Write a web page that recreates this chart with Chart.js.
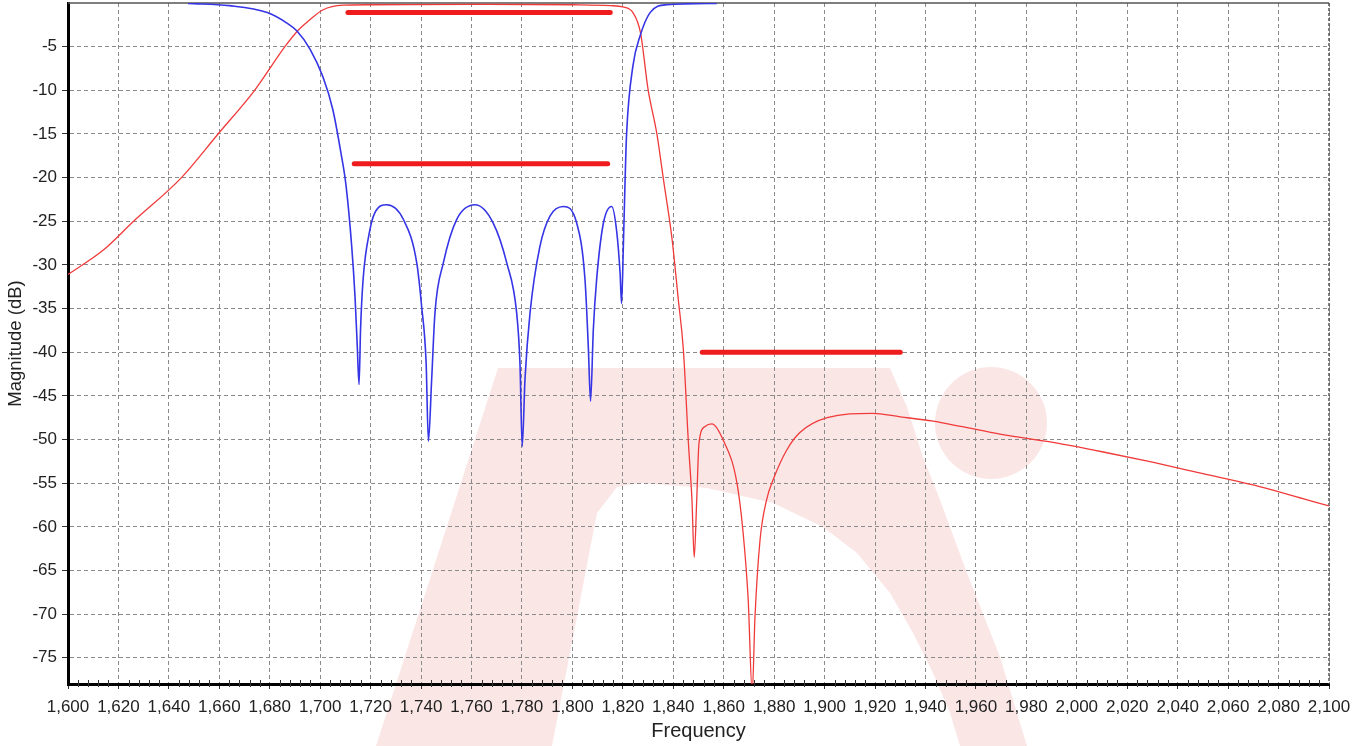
<!DOCTYPE html>
<html>
<head>
<meta charset="utf-8">
<script src="https://cdn.jsdelivr.net/npm/chart.js@4.4.0/dist/chart.umd.min.js"></script>
<style>
  html, body { margin: 0; padding: 0; background: #fff; }
</style>
</head>
<body>
<canvas id="chart" width="1365" height="746"></canvas>
<script>
// S21 (doorlaat) - rode lijn
const s21Freq = [1600, 1614, 1626, 1645, 1659.5, 1674, 1686, 1691, 1696, 1701, 1709, 1720, 1760, 1800, 1815,
  1820, 1824, 1827, 1830, 1833.5, 1836, 1839.5, 1842, 1844, 1846, 1847.4, 1848.3, 1849.3, 1850.2, 1852.6,
  1855.3, 1859.7, 1865.2, 1867.7, 1869.7, 1871.3, 1872.4, 1874.4, 1877, 1879.6, 1885, 1890.2, 1901, 1919,
  1930, 1943, 1954, 1970, 1990, 2010, 2030, 2050, 2070, 2090, 2100];
const s21Mag = [-31.1, -28.3, -25, -20, -15, -10, -5, -3.2, -1.9, -0.8, -0.25, -0.2, -0.15, -0.2, -0.3,
  -0.45, -1.1, -3.4, -9.9, -15, -20, -27, -34, -39.7, -50.4, -56.9, -63.5, -56.9, -50.4, -48.5,
  -48.2, -50, -54.9, -60.7, -68.3, -79, -70.3, -61.5, -56.9, -54.6, -51.2, -49.2, -47.5, -47,
  -47.4, -47.9, -48.5, -49.4, -50.3, -51.4, -52.6, -53.9, -55.2, -56.8, -57.6];

// S11 (reflectie) - blauwe lijn
const s11Freq = [1647.6, 1664, 1679, 1686.8, 1690.8, 1696, 1701, 1705, 1708, 1710.2, 1712.5, 1713.8, 1714.7,
  1715.4, 1716, 1717, 1719.7, 1721.7, 1726.4, 1733, 1738.3, 1740.2, 1742, 1742.9, 1744.2, 1745.5, 1748.8,
  1754.1, 1761.4, 1768.6, 1774, 1777.9, 1779.2, 1780.1, 1781.2, 1783.2, 1787.1, 1791.1, 1796.4, 1801.7,
  1805, 1806.3, 1807.2, 1808.3, 1809.6, 1812.3, 1815.6, 1817.5, 1818.9, 1819.5, 1820.2, 1820.9, 1821.5,
  1824, 1826.8, 1830.8, 1837.4, 1857.2];
const s11Mag = [-0.05, -0.3, -1.1, -2.3, -3.2, -5.3, -8.4, -12.2, -16.8, -20.8, -27.9, -33.6, -39.3,
  -43.7, -37.4, -31.7, -26, -24, -23.1, -24.8, -29.8, -34.7, -41.2, -50.2, -43.1, -35.5, -29.8,
  -24.8, -23.1, -25.2, -29.8, -35.5, -41.2, -50.8, -43.1, -35.5, -27.9, -24.4, -23.3, -25.2,
  -31.7, -39.3, -45.6, -37.4, -31.7, -25.2, -23.3, -26, -30.9, -34.4, -27.9, -20.2, -14.9,
  -7.2, -3.8, -1.1, -0.2, -0.05];

// specificatie-maskers (dikke rode streepjes)
const maskStart = [1711, 1713.5, 1851.5];
const maskEnd = [1815, 1814, 1930];
const maskLevel = [-1.1, -18.4, -40];

// as-labels
const freqTicks = [1600, 1620, 1640, 1660, 1680, 1700, 1720, 1740, 1760, 1780, 1800, 1820, 1840,
  1860, 1880, 1900, 1920, 1940, 1960, 1980, 2000, 2020, 2040, 2060, 2080, 2100];
const magTicks = [-75, -70, -65, -60, -55, -50, -45, -40, -35, -30, -25, -20, -15, -10, -5];

const fontFam = '"Liberation Sans", Arial, sans-serif';

function toPoints(xs, ys) {
  const pts = [];
  for (let i = 0; i < xs.length; i++) {
    pts.push({ x: xs[i], y: ys[i] });
  }
  return pts;
}

const datasets = [
  {
    data: toPoints(s11Freq, s11Mag),
    borderColor: '#3535e6', borderWidth: 1.6,
    pointRadius: 0, cubicInterpolationMode: 'monotone'
  },
  {
    data: toPoints(s21Freq, s21Mag),
    borderColor: '#f03a3a', borderWidth: 1.3,
    pointRadius: 0, cubicInterpolationMode: 'monotone'
  }
];
for (let i = 0; i < maskLevel.length; i++) {
  datasets.push({
    data: [{ x: maskStart[i], y: maskLevel[i] }, { x: maskEnd[i], y: maskLevel[i] }],
    borderColor: '#ee1c1c', borderWidth: 5, borderCapStyle: 'round',
    pointRadius: 0
  });
}

// lichtroze logo op de achtergrond
const watermark = {
  id: 'watermark',
  beforeDraw(chart) {
    const ctx = chart.ctx;
    ctx.save();
    ctx.fillStyle = '#fbe6e6';
    ctx.beginPath();
    const outer = [[376, 746], [498, 368], [890, 368], [907, 407], [923, 457], [940, 500], [967, 573],
      [1000, 657], [1027, 746], [960, 746], [950, 713], [933, 673], [913, 633], [890, 593], [857, 553],
      [823, 527], [773, 503], [707, 488], [640, 483], [617, 487], [597, 513], [552, 746]];
    ctx.moveTo(outer[0][0], outer[0][1]);
    for (let i = 1; i < outer.length; i++) ctx.lineTo(outer[i][0], outer[i][1]);
    ctx.closePath();
    ctx.fill();
    ctx.beginPath();
    ctx.arc(991, 423, 56, 0, Math.PI * 2);
    ctx.fill();
    ctx.restore();
  }
};

// rand boven/rechts en kleine streepjes op de x-as
const frame = {
  id: 'frame',
  beforeDatasetsDraw(chart) {
    const { ctx, chartArea: a } = chart;
    ctx.save();
    ctx.strokeStyle = '#555';
    ctx.lineWidth = 1.5;
    ctx.beginPath();
    ctx.moveTo(a.left, a.top);
    ctx.lineTo(a.right, a.top);
    ctx.stroke();
    ctx.setLineDash([3, 2]);
    ctx.beginPath();
    ctx.moveTo(a.right, a.top);
    ctx.lineTo(a.right, a.bottom);
    ctx.stroke();
    ctx.setLineDash([]);
    const xs = chart.scales.x;
    ctx.strokeStyle = '#333';
    ctx.lineWidth = 1;
    for (let f = 1604; f < 2100; f += 4) {
      if (f % 20 === 0) continue;
      const px = Math.round(xs.getPixelForValue(f)) + 0.5;
      ctx.beginPath();
      ctx.moveTo(px, a.bottom - 4);
      ctx.lineTo(px, a.bottom + 3);
      ctx.stroke();
    }
    ctx.restore();
  }
};

new Chart(document.getElementById('chart'), {
  type: 'line',
  data: { datasets: datasets },
  options: {
    responsive: false,
    animation: false,
    layout: { padding: { top: 3, right: 36, left: 0, bottom: 0 } },
    plugins: { legend: { display: false }, tooltip: { enabled: false } },
    scales: {
      x: {
        type: 'linear', min: 1600, max: 2100,
        afterBuildTicks: s => { s.ticks = freqTicks.map(v => ({ value: v })); },
        afterFit: s => { s.height = 62; s.paddingLeft = 0; s.paddingRight = 0; },
        ticks: {
          autoSkip: false, maxRotation: 0, padding: 8, color: '#222',
          font: { family: fontFam, size: 17 },
          callback: v => v.toLocaleString('en-US')
        },
        grid: { color: '#8a8a8a', lineWidth: 1, tickLength: 5, tickColor: '#333', tickWidth: 1 },
        border: { display: true, color: '#000', width: 3, dash: [4, 3] },
        title: {
          display: true, text: 'Frequency', color: '#222',
          font: { family: fontFam, size: 20 }, padding: { top: 0, bottom: 3 }
        }
      },
      y: {
        type: 'linear', min: -78, max: 0,
        afterBuildTicks: s => { s.ticks = magTicks.map(v => ({ value: v })); },
        afterFit: s => { s.width = 68; s.paddingTop = 0; s.paddingBottom = 0; },
        ticks: {
          autoSkip: false, padding: 5, color: '#222',
          font: { family: fontFam, size: 17 }
        },
        grid: { color: '#8a8a8a', lineWidth: 1, tickLength: 6, tickColor: '#333', tickWidth: 1 },
        border: { display: true, color: '#000', width: 3, dash: [4, 3] },
        title: {
          display: true, text: 'Magnitude (dB)', color: '#222',
          font: { family: fontFam, size: 18.5 }, padding: { top: 5, bottom: 0 }
        }
      }
    }
  },
  plugins: [watermark, frame]
});
</script>
</body>
</html>
